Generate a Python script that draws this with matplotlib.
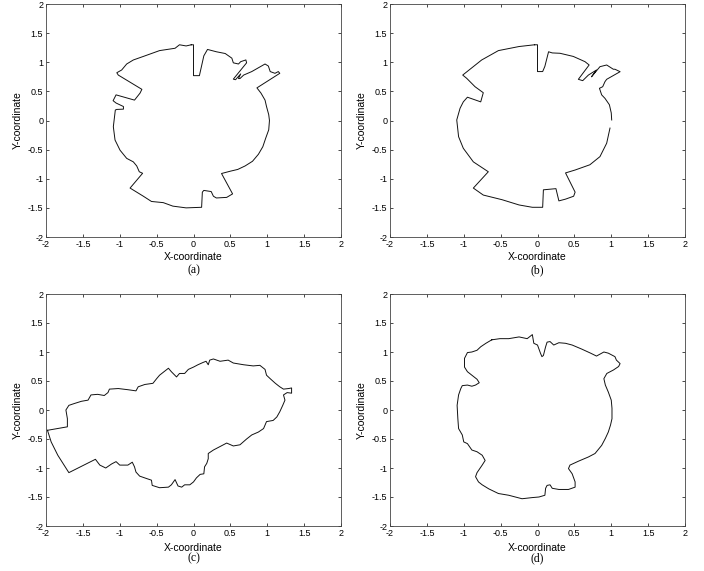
import numpy as np
import matplotlib
matplotlib.use('Agg')
import matplotlib.pyplot as plt

# boundary points, traced clockwise from the top
xa = [-0.03, 0.0, 0.0, 0.08, 0.14, 0.19, 0.31, 0.43, 0.52, 0.54, 0.61, 0.64, 0.71, 0.72,
      0.54, 0.57, 0.64, 0.61, 0.63, 0.68, 0.79, 0.97, 1.015, 1.04, 1.105, 1.15, 1.17,
      0.86, 0.915, 0.97, 0.99, 1.02, 1.03, 1.02, 0.98, 0.94, 0.88, 0.80, 0.70, 0.60,
      0.50, 0.38, 0.53, 0.45, 0.31, 0.27, 0.24, 0.14, 0.12, 0.11, -0.10, -0.28, -0.41,
      -0.57, -0.68, -0.86, -0.69, -0.735, -0.77, -0.816, -0.906, -0.996, -1.064, -1.087,
      -1.06, -1.04, -0.95, -0.95, -1.05, -1.09, -1.05, -0.80, -0.725, -0.70, -1.02, -1.04,
      -0.974, -0.906, -0.816, -0.68, -0.46, -0.25, -0.19, -0.10, -0.03]
ya = [1.30, 1.30, 0.77, 0.77, 1.11, 1.22, 1.18, 1.15, 1.07, 0.99, 0.97, 1.01, 1.04, 0.99,
      0.71, 0.70, 0.80, 0.72, 0.72, 0.78, 0.84, 0.97, 0.935, 0.84, 0.81, 0.84, 0.81,
      0.56, 0.47, 0.35, 0.24, 0.10, 0.0, -0.16, -0.30, -0.45, -0.58, -0.70, -0.78, -0.84,
      -0.87, -0.91, -1.26, -1.32, -1.33, -1.30, -1.22, -1.20, -1.23, -1.49, -1.50, -1.47,
      -1.41, -1.39, -1.30, -1.16, -0.906, -0.88, -0.78, -0.71, -0.65, -0.51, -0.335,
      -0.107, 0.18, 0.19, 0.195, 0.24, 0.30, 0.34, 0.44, 0.35, 0.47, 0.535, 0.78, 0.82,
      0.867, 0.97, 1.039, 1.10, 1.20, 1.24, 1.30, 1.28, 1.30]

# (b) has a small break on the right side near y = 0
xb = [-0.04, 0.0, 0.0, 0.07, 0.10, 0.15, 0.20, 0.305, 0.485, 0.644, 0.70, 0.554, 0.613,
      0.69, 0.80, 0.732, 0.847, 0.938, 1.028, 1.05, 1.12, 0.938, 0.915, 0.884, 0.84, 0.87,
      0.915, 0.975, 1.0, 1.006, np.nan, 0.983, 0.938, 0.847, 0.71, 0.51, 0.38, 0.51, 0.49,
      0.38, 0.29, 0.25, 0.08, 0.07, -0.07, -0.25, -0.48, -0.735, -0.87, -0.667, -0.87,
      -1.006, -1.07, -1.095, -1.05, -1.006, -0.95, -0.77, -0.735, -0.847, -0.96, -1.014,
      -0.757, -0.53, -0.25, -0.04]
yb = [1.30, 1.30, 0.84, 0.84, 0.93, 1.18, 1.16, 1.154, 1.10, 1.01, 0.953, 0.707, 0.684,
      0.78, 0.867, 0.75, 0.924, 0.953, 0.88, 0.88, 0.838, 0.707, 0.667, 0.58, 0.553, 0.44,
      0.38, 0.27, 0.13, 0.009, np.nan, -0.13, -0.39, -0.62, -0.76, -0.85, -0.90, -1.23,
      -1.30, -1.35, -1.38, -1.17, -1.19, -1.49, -1.49, -1.45, -1.36, -1.28, -1.16, -0.88,
      -0.71, -0.477, -0.278, 0.009, 0.21, 0.32, 0.40, 0.32, 0.477, 0.58, 0.724, 0.78,
      1.039, 1.20, 1.27, 1.30]

xc = [-1.98, -1.71, -1.71, -1.73, -1.69, -1.62, -1.52, -1.43, -1.39, -1.30, -1.21, -1.16,
      -1.14, -1.02, -0.89, -0.78, -0.75, -0.66, -0.55, -0.50, -0.46, -0.34, -0.30, -0.23,
      -0.19, -0.12, -0.07, 0.0, 0.06, 0.13, 0.17, 0.20, 0.22, 0.27, 0.36, 0.47, 0.54, 0.68,
      0.81, 0.90, 0.97, 0.99, 1.04, 1.11, 1.17, 1.22, 1.29, 1.33, 1.33, 1.27, 1.22, 1.24,
      1.21, 1.17, 1.13, 1.08, 0.99, 0.95, 0.88, 0.79, 0.72, 0.63, 0.54, 0.45, 0.36, 0.27,
      0.20, 0.20, 0.18, 0.15, 0.14, 0.09, 0.04, 0.0, -0.05, -0.12, -0.16, -0.21, -0.25,
      -0.30, -0.34, -0.46, -0.56, -0.57, -0.64, -0.73, -0.78, -0.80, -0.83, -0.89, -1.00,
      -1.05, -1.11, -1.19, -1.27, -1.33, -1.69, -1.84, -1.93, -1.98]
yc = [-0.35, -0.29, -0.15, 0.0, 0.08, 0.11, 0.15, 0.17, 0.26, 0.27, 0.25, 0.30,
      0.36, 0.37, 0.35, 0.33, 0.40, 0.44, 0.46, 0.54, 0.60, 0.72, 0.66, 0.57,
      0.63, 0.63, 0.70, 0.74, 0.78, 0.82, 0.84, 0.78, 0.86, 0.88, 0.84, 0.86, 0.81, 0.78,
      0.76, 0.77, 0.70, 0.60, 0.54, 0.46, 0.40, 0.36, 0.37, 0.38, 0.29, 0.30, 0.26, 0.17,
      0.08, -0.03, -0.12, -0.18, -0.20, -0.32, -0.38, -0.43, -0.50, -0.60, -0.62, -0.57,
      -0.63, -0.69, -0.75, -0.84, -0.92, -0.98, -1.10, -1.11, -1.17, -1.24, -1.29, -1.29,
      -1.33, -1.31, -1.20, -1.29, -1.33, -1.34, -1.30, -1.21, -1.18, -1.14, -1.07, -0.98,
      -0.90, -0.95, -0.95, -0.89, -0.93, -1.00, -0.95, -0.85, -1.08, -0.78, -0.55, -0.35]

xd = [-0.62, -0.51, -0.39, -0.25, -0.14, -0.07, -0.05, 0.0, 0.04, 0.06, 0.08, 0.11, 0.13,
      0.17, 0.22, 0.29, 0.38, 0.47, 0.60, 0.72, 0.80, 0.90, 0.96, 1.05, 1.07, 1.12, 1.10,
      1.03, 0.94, 0.90, 0.92, 0.96, 1.00, 1.01, 1.01, 0.99, 0.96, 0.92, 0.87, 0.78, 0.69,
      0.56, 0.44, 0.42, 0.47, 0.51, 0.51, 0.42, 0.29, 0.20, 0.17, 0.13, 0.11, 0.10, 0.02,
      -0.07, -0.21, -0.30, -0.39, -0.53, -0.66, -0.75, -0.80, -0.84, -0.82, -0.75, -0.71,
      -0.75, -0.82, -0.89, -0.95, -1.00, -1.02, -1.07, -1.08, -1.09, -1.07, -1.04, -1.02,
      -0.95, -0.89, -0.84, -0.79, -0.82, -0.89, -0.95, -0.99, -0.99, -0.95, -0.89, -0.82,
      -0.77, -0.70, -0.62]
yd = [1.21, 1.23, 1.23, 1.26, 1.23, 1.30, 1.15, 1.12, 0.98, 0.92, 0.94, 1.09, 1.17,
      1.18, 1.12, 1.16, 1.15, 1.12, 1.05, 0.98, 0.93, 1.00, 0.98, 0.92, 0.86, 0.80, 0.75,
      0.69, 0.63, 0.54, 0.43, 0.31, 0.17, 0.03, -0.15, -0.26, -0.38, -0.49, -0.61, -0.75,
      -0.81, -0.88, -0.95, -1.01, -1.10, -1.24, -1.33, -1.37, -1.37, -1.35, -1.29, -1.30,
      -1.35, -1.47, -1.50, -1.51, -1.53, -1.50, -1.47, -1.44, -1.36, -1.29, -1.24, -1.15,
      -1.08, -0.95, -0.87, -0.78, -0.72, -0.69, -0.58, -0.55, -0.43, -0.32, -0.15, 0.08,
      0.26, 0.37, 0.42, 0.43, 0.41, 0.43, 0.47, 0.53, 0.60, 0.66, 0.74, 0.89, 0.99, 1.00,
      1.03, 1.09, 1.15, 1.21]

curves = [(xa, ya, '(a)'), (xb, yb, '(b)'), (xc, yc, '(c)'), (xd, yd, '(d)')]
ticks = [-2, -1.5, -1, -0.5, 0, 0.5, 1, 1.5, 2]
tick_labels = ['-2', '-1.5', '-1', '-0.5', '0', '0.5', '1', '1.5', '2']

W, H = 704, 571
fig = plt.figure(figsize=(W / 100, H / 100), dpi=100)
plt.rcParams['font.family'] = ['Liberation Sans', 'DejaVu Sans']

# axes boxes in pixels: left, top, right, bottom
boxes = [(46, 4, 341, 237), (390, 4, 685, 237), (46, 294, 341, 526), (390, 294, 685, 526)]
ylab_x = [18, 362, 18, 362]
xlab_dy = [20, 20, 22, 22]
cap_y = [270, 270, 558, 558]

for (x, y, cap), (l, t, r, b), yx, dy, cy in zip(curves, boxes, ylab_x, xlab_dy, cap_y):
    ax = fig.add_axes([l / W, 1 - b / H, (r - l) / W, (b - t) / H])
    ax.plot(x, y, color='#111111', lw=0.7)
    ax.set_xlim(-2, 2)
    ax.set_ylim(-2, 2)
    ax.set_xticks(ticks)
    ax.set_yticks(ticks)
    ax.set_xticklabels(tick_labels)
    ax.set_yticklabels(tick_labels)
    ax.tick_params(direction='in', length=2.5, width=0.5, labelsize=6.5, pad=2,
                   top=True, right=True)
    for s in ax.spines.values():
        s.set_linewidth(0.6)
        s.set_color('#444444')
    cx = (l + r) / 2
    fig.text(cx / W, 1 - (b + dy) / H, 'X-coordinate', ha='center', va='center', fontsize=7.5)
    fig.text(yx / W, 1 - ((t + b) / 2) / H, 'Y-coordinate', ha='center', va='center',
             rotation=90, fontsize=7.5)
    fig.text(cx / W, 1 - cy / H, cap, ha='center', va='center', fontsize=8.5,
             family=['Liberation Serif', 'DejaVu Serif'])

fig.savefig('out.png', dpi=100)
